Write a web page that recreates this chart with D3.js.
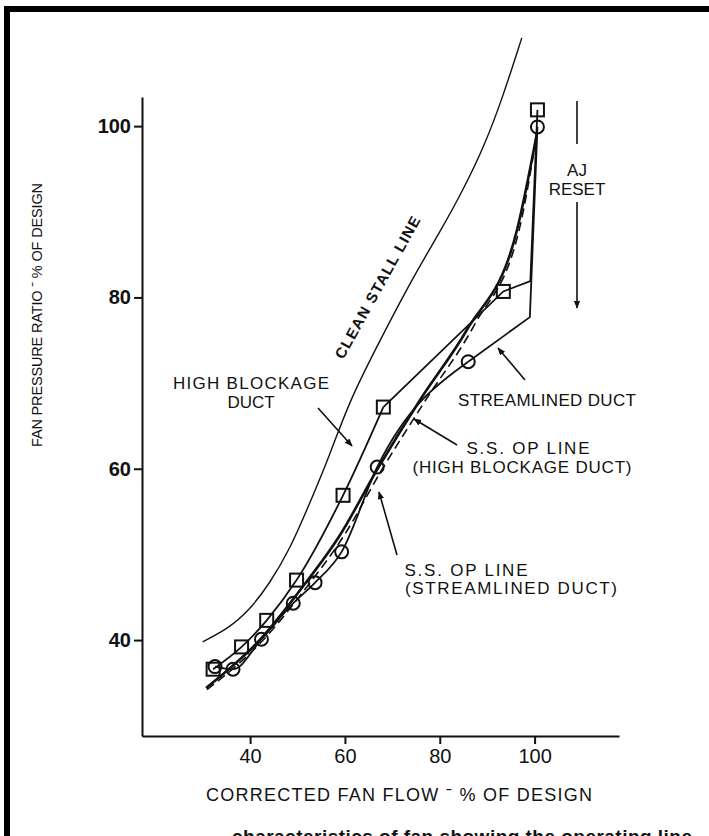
<!DOCTYPE html>
<html>
<head>
<meta charset="utf-8">
<script src="https://cdn.jsdelivr.net/npm/d3@7"></script>
<style>
  html, body { margin: 0; padding: 0; background: #fff; }
  svg { display: block; }
  text { font-family: "Liberation Sans", Arial, Helvetica, sans-serif; fill: #111; }
</style>
</head>
<body>
<svg id="chart" width="709" height="836"></svg>
<script>
// ---------------- data ----------------
const flowTicks = [40, 60, 80, 100];
const prTicks = [40, 60, 80, 100];

const stallFlow = [30.0, 35.3, 39.9, 44.1, 48.4, 52.6, 56.8, 61.0, 67.4, 74.3, 80.0, 84.9, 89.5, 93.3, 97.3];
const stallPR   = [39.8, 41.3, 43.5, 46.6, 50.6, 56.0, 61.6, 68.0, 75.0, 82.3, 87.6, 92.5, 97.8, 103.4, 110.3];

// High blockage duct (squares)
const hbFlow = [32.2, 38.2, 43.5, 49.8, 59.6, 68.1, 93.4, 100.6];
const hbPR   = [36.6, 39.2, 42.3, 47.0, 56.9, 67.2, 80.7, 101.9];
// knee where the high blockage line meets the AJ reset line
const hbKneeFlow = [99.1];
const hbKneePR   = [81.9];

// Streamlined duct (circles)
const slFlow = [32.6, 36.4, 42.4, 49.1, 53.7, 59.3, 66.8, 86.0, 100.6];
const slPR   = [36.9, 36.6, 40.1, 44.3, 46.7, 50.3, 60.2, 72.5, 99.9];
const slKneeFlow = [99.0];
const slKneePR   = [77.7];

// S.S. operating lines
const opHbFlow = [30.7, 42.0, 50.5, 58.9, 66.7, 75.8, 85.7, 96.3, 100.5];
const opHbPR   = [34.4, 40.0, 45.8, 52.2, 59.8, 68.0, 76.2, 87.9, 99.2];
const opSlFlow = [30.9, 42.4, 51.4, 59.8, 67.7, 77.0, 87.3, 97.0, 100.5];
const opSlPR   = [34.2, 39.8, 45.8, 52.2, 59.8, 68.0, 76.8, 88.5, 99.2];

// ---------------- layout ----------------
const svg = d3.select("#chart");
const x = d3.scaleLinear().domain([17.2, 117.8]).range([142, 619]);
const y = d3.scaleLinear().domain([28.8, 103.4]).range([736, 97]);

// frame
svg.append("rect").attr("x", 4).attr("y", 6).attr("width", 709).attr("height", 6).attr("fill", "#000");
svg.append("rect").attr("x", 4).attr("y", 6).attr("width", 6).attr("height", 836).attr("fill", "#000");

// axes
const yAxis = svg.append("g").attr("transform", `translate(${x(17.2)},0)`)
  .call(d3.axisLeft(y).tickValues(prTicks).tickSize(8).tickSizeOuter(0).tickPadding(3));
yAxis.selectAll("path, line").attr("stroke", "#111").attr("stroke-width", 2);
yAxis.selectAll("text").attr("font-size", 20).attr("font-weight", "bold").attr("fill", "#111")
  .style("font-family", "Liberation Sans, Arial, sans-serif");

const xAxis = svg.append("g").attr("transform", `translate(0,${y(28.8)})`)
  .call(d3.axisBottom(x).tickValues(flowTicks).tickSize(8).tickSizeOuter(0).tickPadding(5));
xAxis.selectAll("path, line").attr("stroke", "#111").attr("stroke-width", 2);
xAxis.selectAll("text").attr("font-size", 20).attr("fill", "#111")
  .style("font-family", "Liberation Sans, Arial, sans-serif");

// axis titles
svg.append("text").attr("x", 399).attr("y", 801).attr("text-anchor", "middle")
  .attr("font-size", 18).attr("textLength", 386)
  .text("CORRECTED FAN FLOW ˉ % OF DESIGN");
svg.append("text").attr("transform", "translate(42,315) rotate(-90)").attr("text-anchor", "middle")
  .attr("font-size", 14.5).attr("textLength", 264)
  .text("FAN PRESSURE RATIO ˉ % OF DESIGN");

// line generators
const pts = (fx, fy) => fx.map((v, i) => [x(v), y(fy[i])]);
const smooth = d3.line().curve(d3.curveMonotoneX);
const straight = d3.line();

const g = svg.append("g").attr("fill", "none").attr("stroke", "#111");

// clean stall line
g.append("path").attr("d", d3.line().curve(d3.curveBasis)(pts(stallFlow, stallPR))).attr("stroke-width", 1.4);

// high blockage duct line
const hbPts = pts(hbFlow, hbPR);
g.append("path").attr("d", smooth(hbPts.slice(0, 6))).attr("stroke-width", 1.8);
g.append("path").attr("d", straight([hbPts[5], hbPts[6], ...pts(hbKneeFlow, hbKneePR), hbPts[7]])).attr("stroke-width", 1.8);

// streamlined duct line
const slPts = pts(slFlow, slPR);
g.append("path").attr("d", smooth(slPts.slice(0, 8))).attr("stroke-width", 1.8);
g.append("path").attr("d", straight([slPts[7], ...pts(slKneeFlow, slKneePR), slPts[8]])).attr("stroke-width", 1.8);

// S.S. op lines
g.append("path").attr("d", smooth(pts(opHbFlow, opHbPR))).attr("stroke-width", 2.6);
g.append("path").attr("d", smooth(pts(opSlFlow, opSlPR))).attr("stroke-width", 1.6)
  .attr("stroke-dasharray", "9,5");

// markers
svg.append("g").selectAll("rect").data(hbPts).join("rect")
  .attr("x", d => d[0] - 6.5).attr("y", d => d[1] - 6.5).attr("width", 13).attr("height", 13)
  .attr("fill", "none").attr("stroke", "#111").attr("stroke-width", 2);
svg.append("g").selectAll("circle").data(slPts).join("circle")
  .attr("cx", d => d[0]).attr("cy", d => d[1]).attr("r", 6.5)
  .attr("fill", "none").attr("stroke", "#111").attr("stroke-width", 2);

// arrowhead marker
const defs = svg.append("defs");
defs.append("marker").attr("id", "ah").attr("viewBox", "0 0 10 10").attr("refX", 9).attr("refY", 5)
  .attr("markerWidth", 8).attr("markerHeight", 8).attr("markerUnits", "userSpaceOnUse").attr("orient", "auto")
  .append("path").attr("d", "M0,1 L10,5 L0,9 Z").attr("fill", "#111");

const arrow = (x1, y1, x2, y2) => svg.append("line").attr("x1", x1).attr("y1", y1).attr("x2", x2).attr("y2", y2)
  .attr("stroke", "#111").attr("stroke-width", 1.6).attr("marker-end", "url(#ah)");

// annotations
function label(lines, cx, cy, size, lens) {
  lines.forEach((t, i) => {
    const el = svg.append("text").attr("x", cx).attr("y", cy + i * 19).attr("text-anchor", "middle")
      .attr("font-size", size).text(t);
    if (lens && lens[i]) el.attr("textLength", lens[i]);
  });
}
svg.append("text").attr("transform", "translate(382,290) rotate(-61)").attr("text-anchor", "middle")
  .attr("font-size", 15).attr("font-weight", "bold").attr("textLength", 160).text("CLEAN STALL LINE");

label(["HIGH BLOCKAGE", "DUCT"], 251, 389, 17, [156, null]);
arrow(318, 408, 352, 446);

label(["STREAMLINED DUCT"], 547, 406, 17, [178]);
arrow(525, 380, 498, 348);

label(["S.S. OP LINE"], 528, 454, 17, [123]);
label(["(HIGH BLOCKAGE DUCT)"], 522, 473, 17, [219]);
arrow(457, 445, 414, 419);

label(["S.S. OP LINE"], 466, 576, 17, [123]);
label(["(STREAMLINED DUCT)"], 511, 594, 17, [212]);
arrow(397, 555, 379, 492);

label(["AJ", "RESET"], 577, 176, 17, null);
svg.append("line").attr("x1", 577).attr("y1", 101).attr("x2", 577).attr("y2", 144).attr("stroke", "#111").attr("stroke-width", 1.6);
svg.append("line").attr("x1", 577).attr("y1", 202).attr("x2", 577).attr("y2", 308).attr("stroke", "#111")
  .attr("stroke-width", 1.6).attr("marker-end", "url(#ah)");

// partially visible caption at the bottom edge
svg.append("text").attr("x", 232).attr("y", 843).attr("font-size", 19).attr("font-weight", "bold")
  .attr("textLength", 460).text("characteristics of fan showing the operating line");
</script>
</body>
</html>
